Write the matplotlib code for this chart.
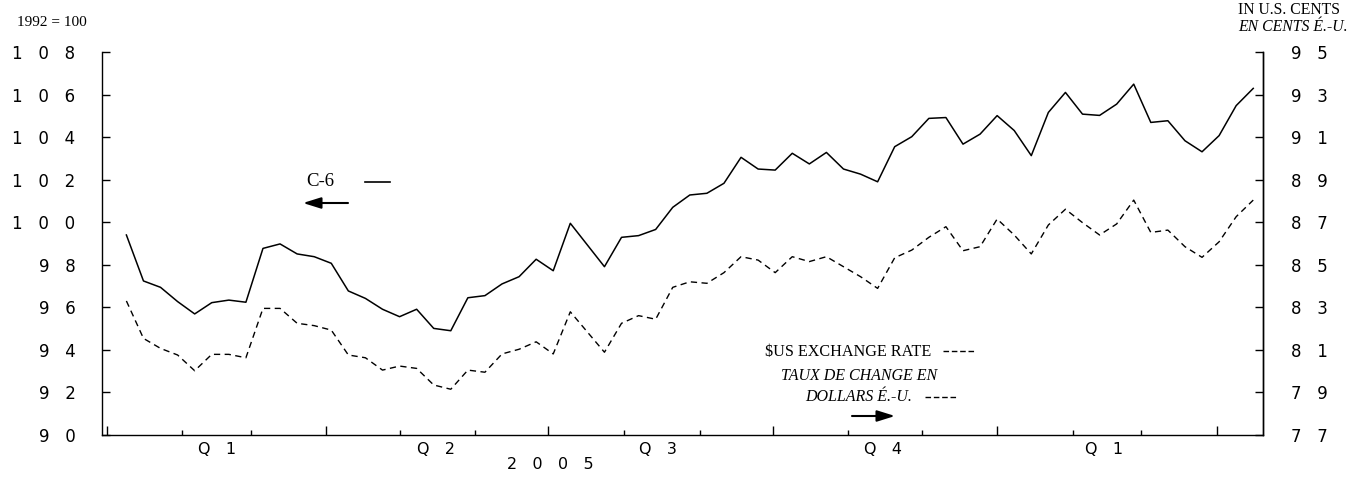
import matplotlib
matplotlib.use("Agg")
import matplotlib.pyplot as plt
import matplotlib.dates as mdates
import pandas as pd
from matplotlib.lines import Line2D
from matplotlib.ticker import FuncFormatter

# weekly observations, Jan 2005 - Apr 2006
weeks = pd.date_range("2005-01-09", periods=67, freq="7D")

# C-6 index (1992 = 100), left scale
c6 = [99.40, 97.24, 96.94, 96.27, 95.69, 96.22, 96.34, 96.24, 98.77, 98.98,
      98.51, 98.38, 98.07, 96.77, 96.42, 95.91, 95.56, 95.91, 95.01, 94.90,
      96.45, 96.55, 97.10, 97.44, 98.26, 97.72, 99.95, 98.93, 97.91, 99.29,
      99.37, 99.66, 100.70, 101.28, 101.36, 101.83, 103.05, 102.50, 102.45, 103.24,
      102.74, 103.28, 102.50, 102.26, 101.90, 103.55, 104.02, 104.88, 104.92, 103.67,
      104.14, 105.01, 104.31, 103.13, 105.16, 106.10, 105.08, 105.02, 105.55, 106.49,
      104.69, 104.77, 103.83, 103.31, 104.07, 105.48, 106.29]

# $US exchange rate in US cents, right scale
rate = [83.30, 81.54, 81.07, 80.76, 80.02, 80.79, 80.79, 80.63, 82.95, 82.95,
        82.25, 82.14, 81.93, 80.76, 80.63, 80.05, 80.24, 80.13, 79.35, 79.15,
        80.05, 79.95, 80.81, 81.03, 81.38, 80.81, 82.79, 81.84, 80.89, 82.25,
        82.61, 82.44, 83.94, 84.20, 84.13, 84.63, 85.38, 85.22, 84.63, 85.38,
        85.15, 85.38, 84.91, 84.44, 83.89, 85.33, 85.69, 86.29, 86.79, 85.66,
        85.85, 87.15, 86.40, 85.51, 86.87, 87.61, 86.98, 86.40, 86.92, 88.04,
        86.52, 86.63, 85.85, 85.35, 86.08, 87.26, 88.04]

left_ticks = list(range(90, 109, 2))
right_ticks = list(range(77, 96, 2))
q_labels = ["Q1", "Q2", "Q3", "Q4", "Q1"]
q_mid = pd.to_datetime(["2005-02-15", "2005-05-16", "2005-08-15",
                        "2005-11-15", "2006-02-14"])
year_label = "2005"
year_pos = pd.Timestamp("2005-07-02")

W, H = 1364, 478
SERIF = "Liberation Serif"


def spaced(s):
    # the original uses a very wide face; spread the glyphs out instead
    return "   ".join(s)


def fx(px):
    return px / W


def fy(py):
    return 1 - py / H


fig = plt.figure(figsize=(W / 100, H / 100), dpi=100)
ax = fig.add_axes([fx(102), fy(435), (1263 - 102) / W, (435 - 52) / H])

ax.plot(weeks, c6, color="black", lw=1.1)
ax.set_xlim(pd.Timestamp("2004-12-30"), pd.Timestamp("2006-04-20"))
ax.set_ylim(90, 108)

ax2 = ax.twinx()
ax2.plot(weeks, rate, color="black", lw=1.0, ls=(0, (4.5, 3.2)))
ax2.set_ylim(77, 95)

for a in (ax, ax2):
    a.spines["top"].set_visible(False)
for s in ("left", "bottom"):
    ax2.spines[s].set_visible(False)
for a in (ax, ax2):
    for s in a.spines.values():
        s.set_linewidth(1.0)

ax.xaxis.set_major_locator(mdates.MonthLocator(bymonth=[1, 4, 7, 10]))
ax.xaxis.set_minor_locator(mdates.MonthLocator())
ax.xaxis.set_major_formatter(plt.NullFormatter())
ax.tick_params(axis="x", which="major", direction="in", length=6.5, width=1)
ax.tick_params(axis="x", which="minor", direction="in", length=3.5, width=1)

ax.set_yticks(left_ticks)
ax.yaxis.set_major_formatter(FuncFormatter(lambda v, p: spaced(str(int(v)))))
ax.tick_params(axis="y", direction="in", length=6, width=1, pad=19, labelsize=12)
ax2.set_yticks(right_ticks)
ax2.yaxis.set_major_formatter(FuncFormatter(lambda v, p: spaced(str(int(v)))))
ax2.tick_params(axis="y", direction="in", length=6, width=1, pad=20, labelsize=12)

xt = ax.get_xaxis_transform()
for d, lab in zip(q_mid, q_labels):
    ax.text(d, -0.037, spaced(lab), transform=xt, ha="center", va="center", fontsize=11.5)
ax.text(year_pos, -0.078, spaced(year_label), transform=xt, ha="center", va="center",
        fontsize=11.5)

# scale captions
fig.text(fx(17), fy(22), "1992 = 100", family=SERIF, fontsize=11, va="center")
fig.text(fx(1238), fy(10), "IN U.S. CENTS", family=SERIF, fontsize=11.3, va="center")
fig.text(fx(1238), fy(27), "EN CENTS É.-U.", family=SERIF, fontsize=11.3, va="center",
         style="italic")

# C-6 key
fig.text(fx(306), fy(182), "C-6", family=SERIF, fontsize=13.5, va="center")
fig.add_artist(Line2D([fx(365), fx(390)], [fy(182), fy(182)], transform=fig.transFigure,
                      color="black", lw=1.2))
ax.annotate("", xy=(fx(303), fy(203)), xytext=(fx(348), fy(203)),
            xycoords="figure fraction", textcoords="figure fraction",
            arrowprops=dict(arrowstyle="-|>,head_length=0.8,head_width=0.25",
                            mutation_scale=13.5, color="black", lw=1.5,
                            shrinkA=0, shrinkB=0))

# exchange rate key
fig.text(fx(765), fy(352), "$US EXCHANGE RATE", family=SERIF, fontsize=11.6, va="center")
fig.add_artist(Line2D([fx(943), fx(976)], [fy(351), fy(351)], transform=fig.transFigure,
                      color="black", lw=1.0, ls=(0, (4, 2))))
fig.text(fx(781), fy(376), "TAUX DE CHANGE EN", family=SERIF, fontsize=11.5, va="center",
         style="italic")
fig.text(fx(805), fy(397), "DOLLARS É.-U.", family=SERIF, fontsize=11.5, va="center",
         style="italic")
fig.add_artist(Line2D([fx(925), fx(958)], [fy(397), fy(397)], transform=fig.transFigure,
                      color="black", lw=1.0, ls=(0, (4, 2))))
ax.annotate("", xy=(fx(895), fy(416)), xytext=(fx(852), fy(416)),
            xycoords="figure fraction", textcoords="figure fraction",
            arrowprops=dict(arrowstyle="-|>,head_length=0.8,head_width=0.25",
                            mutation_scale=13.5, color="black", lw=1.5,
                            shrinkA=0, shrinkB=0))

fig.savefig("out.png", dpi=100)
